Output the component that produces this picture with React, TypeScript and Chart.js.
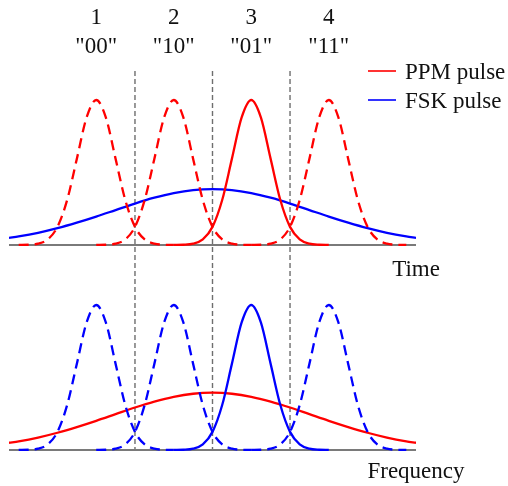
import React, { useEffect, useRef } from "react";
import { Chart, registerables } from "chart.js";

Chart.register(...registerables);

// ---- data ----
const pulseCenters = [1, 2, 3, 4];
const symbolNumbers = ["1", "2", "3", "4"];
const symbolCodes = ['"00"', '"10"', '"01"', '"11"'];
const activeSymbol = 2; // "01" is the transmitted (solid) pulse
const symbolBoundaries = [1.5, 2.5, 3.5];
const pulseOffsets = [-1, -0.875, -0.75, -0.625, -0.5, -0.375, -0.25, -0.125, 0, 0.125, 0.25, 0.375, 0.5, 0.625, 0.75, 0.875, 1];
const pulseShape = [0.0002, 0.0017, 0.0092, 0.0386, 0.125, 0.31, 0.594, 0.878, 1, 0.878, 0.594, 0.31, 0.125, 0.0386, 0.0092, 0.0017, 0.0002];
const wideX = [-0.125, 0, 0.25, 0.5, 0.75, 1, 1.25, 1.5, 1.75, 2, 2.25, 2.5, 2.75, 3, 3.25, 3.5, 3.75, 4, 4.25, 4.5, 4.75, 5, 5.125];
const wideTop = [0.049, 0.059, 0.084, 0.116, 0.154, 0.196, 0.241, 0.286, 0.326, 0.358, 0.379, 0.386, 0.379, 0.358, 0.326, 0.286, 0.241, 0.196, 0.154, 0.116, 0.084, 0.059, 0.049];
const wideBottom = [0.05, 0.06, 0.086, 0.119, 0.158, 0.201, 0.247, 0.293, 0.334, 0.367, 0.388, 0.395, 0.388, 0.367, 0.334, 0.293, 0.247, 0.201, 0.158, 0.119, 0.086, 0.06, 0.05];
const axisRange = [-0.125, 5.125];
const legendLabels = ["PPM pulse", "FSK pulse"];
const RED = "#ff0000";
const BLUE = "#0000ff";
const legendColors = [RED, BLUE];
const axisTitles = ["Time", "Frequency"];

const FONT = "23px 'Liberation Serif', 'Times New Roman', serif";

function pulseDatasets(color: string, axis: string) {
  return pulseCenters.map((c, k) => ({
    label: `${axis}-pulse-${k}`,
    data: pulseOffsets.map((o, i) => ({ x: c + o, y: pulseShape[i] })),
    borderColor: color,
    borderWidth: 2.3,
    borderDash: k === activeSymbol ? [] : [10, 6],
    yAxisID: axis,
    fill: false,
  }));
}

function wideDataset(color: string, axis: string, vals: number[]) {
  return {
    label: `${axis}-wide`,
    data: wideX.map((x, i) => ({ x, y: vals[i] })),
    borderColor: color,
    borderWidth: 2.3,
    yAxisID: axis,
    fill: false,
  };
}

function baseline(axis: string) {
  return {
    label: `${axis}-axis`,
    data: axisRange.map((x) => ({ x, y: 0 })),
    borderColor: "#7a7a7a",
    borderWidth: 2,
    yAxisID: axis,
    fill: false,
  };
}

const overlay = {
  id: "overlay",
  beforeDatasetsDraw(chart: any) {
    const { ctx, scales } = chart;
    const x = scales.x;
    const yt = scales.yTop;
    const yb = scales.yBot;
    ctx.save();
    ctx.strokeStyle = "#6e6e6e";
    ctx.lineWidth = 1.4;
    ctx.setLineDash([5, 3]);
    for (const b of symbolBoundaries) {
      const px = x.getPixelForValue(b);
      ctx.beginPath();
      ctx.moveTo(px, yt.getPixelForValue(1.2));
      ctx.lineTo(px, yb.getPixelForValue(0));
      ctx.stroke();
    }
    ctx.restore();
  },
  afterDraw(chart: any) {
    const { ctx, scales, chartArea } = chart;
    const x = scales.x;
    ctx.save();
    ctx.font = FONT;
    ctx.fillStyle = "#111";
    ctx.textAlign = "center";
    ctx.textBaseline = "alphabetic";
    pulseCenters.forEach((c, i) => {
      const px = x.getPixelForValue(c);
      ctx.fillText(symbolNumbers[i], px, 24);
      ctx.fillText(symbolCodes[i], px, 53);
    });
    // axis titles
    ctx.fillText(axisTitles[0], chartArea.right, 276);
    ctx.fillText(axisTitles[1], chartArea.right, 478);
    // legend
    legendLabels.forEach((lab, i) => {
      const ly = 71 + i * 29;
      ctx.strokeStyle = legendColors[i];
      ctx.lineWidth = 1.6;
      ctx.beginPath();
      ctx.moveTo(368, ly);
      ctx.lineTo(396, ly);
      ctx.stroke();
      ctx.textAlign = "left";
      ctx.fillText(lab, 405, ly + 8);
    });
    ctx.restore();
  },
};

export default function App() {
  const ref = useRef<HTMLCanvasElement | null>(null);
  useEffect(() => {
    document.body.style.margin = "0";
    const canvas = ref.current;
    if (!canvas) return;
    const datasets: any[] = [
      ...pulseDatasets(RED, "yTop"),
      wideDataset(BLUE, "yTop", wideTop),
      ...pulseDatasets(BLUE, "yBot"),
      wideDataset(RED, "yBot", wideBottom),
      baseline("yTop"),
      baseline("yBot"),
    ];
    const chart = new Chart(canvas, {
      type: "line",
      data: { datasets },
      options: {
        responsive: false,
        animation: false,
        devicePixelRatio: 1,
        events: [],
        layout: { padding: { left: 9, right: 92, top: 60, bottom: 26 } },
        plugins: { legend: { display: false }, tooltip: { enabled: false } },
        elements: {
          point: { radius: 0 },
          line: { cubicInterpolationMode: "monotone" },
        },
        scales: {
          x: { type: "linear", min: axisRange[0], max: axisRange[1], display: false },
          yTop: { type: "linear", min: -1.4828, max: 1.2759, display: false },
          yBot: { type: "linear", min: -0.069, max: 2.6897, display: false },
        },
      } as any,
      plugins: [overlay],
    });
    return () => chart.destroy();
  }, []);
  return (
    <div style={{ position: "fixed", left: 0, top: 0, width: 508, height: 486, background: "#fff" }}>
      <canvas ref={ref} width={508} height={486} style={{ display: "block" }} />
    </div>
  );
}
